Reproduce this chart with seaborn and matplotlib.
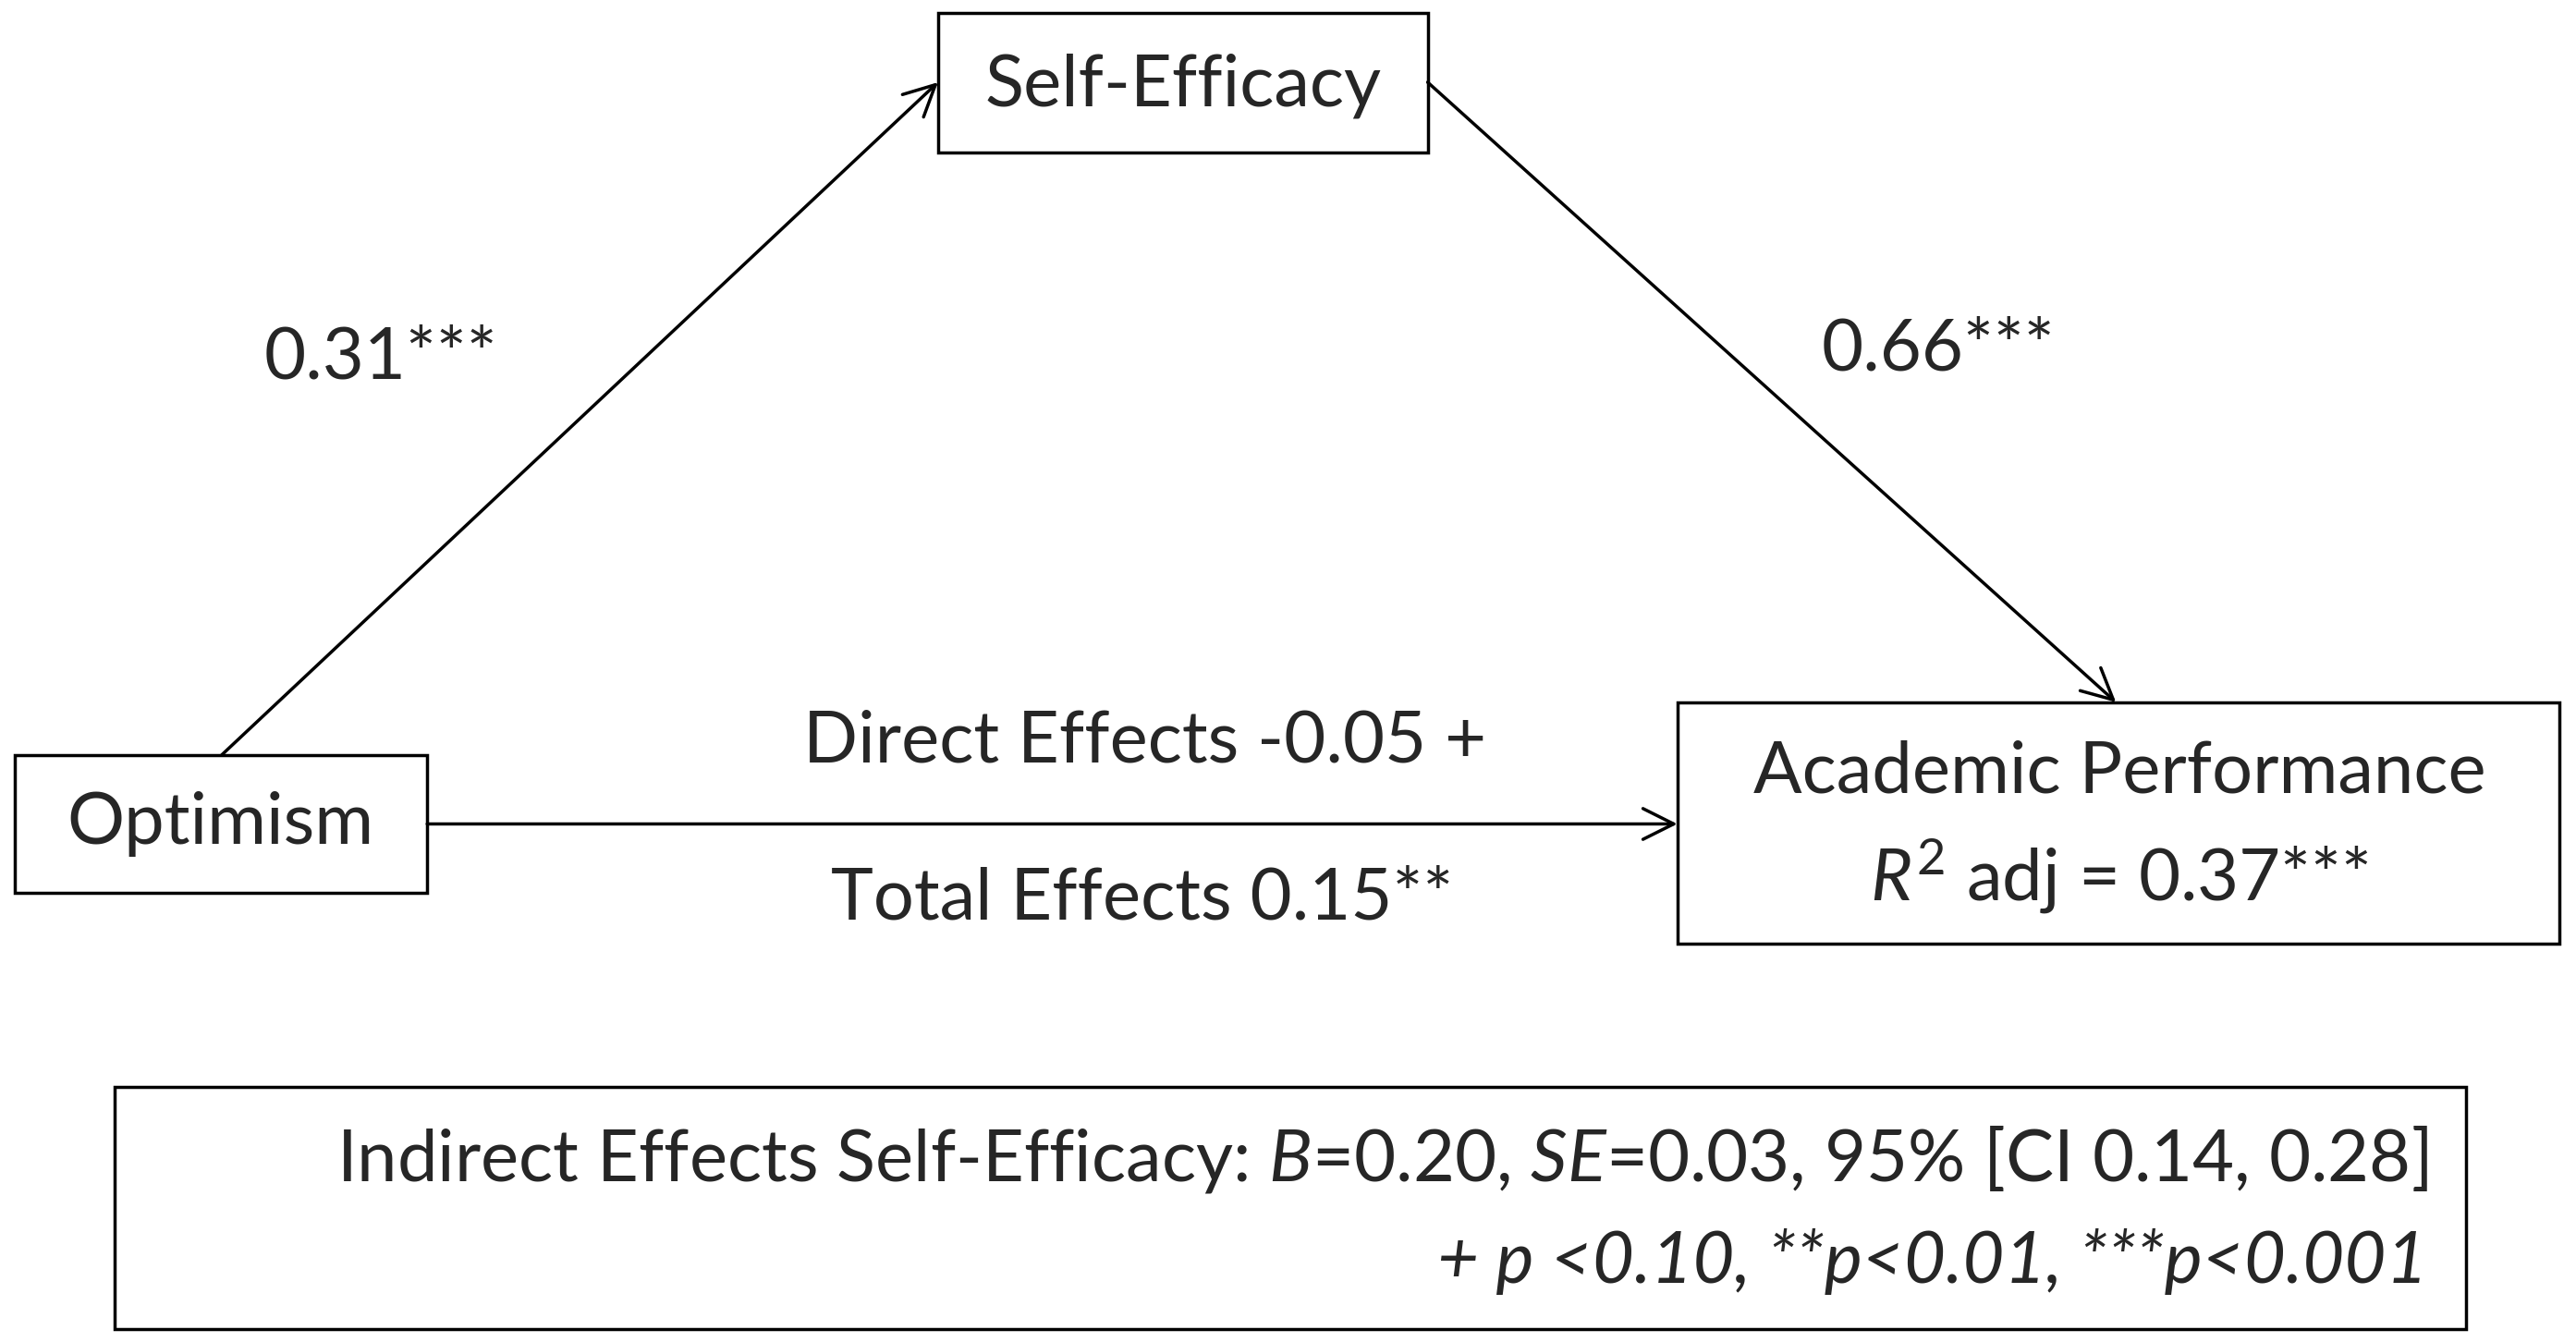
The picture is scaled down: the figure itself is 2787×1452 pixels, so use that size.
import matplotlib
matplotlib.use("Agg")
import matplotlib.pyplot as plt
import seaborn as sns
from matplotlib.patches import Rectangle, FancyArrowPatch

sns.set_theme(style="white")
plt.rcParams['font.family'] = ['Lato', 'DejaVu Sans']
plt.rcParams['mathtext.fontset'] = 'custom'
plt.rcParams['mathtext.rm'] = 'Lato'
plt.rcParams['mathtext.it'] = 'Lato:italic'

nodes = ["Self-Efficacy", "Optimism", "Academic Performance"]
path_a = "0.31***"
path_b = "0.66***"
direct = "Direct Effects -0.05 +"
total = "Total Effects 0.15**"
r2 = r"$\mathit{R}^{2}$ adj = 0.37***"
note1 = r"Indirect Effects Self-Efficacy: $\mathit{B}$=0.20, $\mathit{SE}$=0.03, 95% [CI 0.14, 0.28]"
note2 = "+ p <0.10, **p<0.01, ***p<0.001"

fig = plt.figure(figsize=(27.87, 14.52), dpi=100)
ax = fig.add_axes([0, 0, 1, 1])
ax.set_xlim(0, 1568)
ax.set_ylim(816, 0)
ax.axis('off')

FS = 56
def box(x0, y0, x1, y1):
    ax.add_patch(Rectangle((x0, y0), x1 - x0, y1 - y0, fill=False, ec='black', lw=2.5))

box(571, 8, 869, 93)
box(9, 459, 260, 543)
box(1021, 427, 1558, 574)
box(70, 661, 1501, 808)

ax.text(720, 52, nodes[0], fontsize=FS, ha='center', va='center')
ax.text(134, 501, nodes[1], fontsize=FS, ha='center', va='center')
ax.text(1290, 470, nodes[2], fontsize=FS, ha='center', va='center')
ax.text(1290, 533, r2, fontsize=FS, ha='center', va='center')

def arrow(p, q):
    ax.add_patch(FancyArrowPatch(p, q, arrowstyle='->,head_length=1.2,head_width=0.6',
                                 lw=2.5, color='black', mutation_scale=20, shrinkA=0, shrinkB=0))

arrow((135, 459), (571, 50))
arrow((869, 50), (1288, 427))
arrow((260, 501), (1021, 501))

ax.text(232, 218, path_a, fontsize=FS, ha='center', va='center')
ax.text(1180, 213, path_b, fontsize=FS, ha='center', va='center')
ax.text(697, 451, direct, fontsize=FS, ha='center', va='center')
ax.text(695, 547, total, fontsize=FS, ha='center', va='center')
ax.text(1478, 705, note1, fontsize=FS, ha='right', va='center')
ax.text(1478, 767, note2, fontsize=FS, ha='right', va='center', style='italic')

fig.savefig("out.png", dpi=100)
